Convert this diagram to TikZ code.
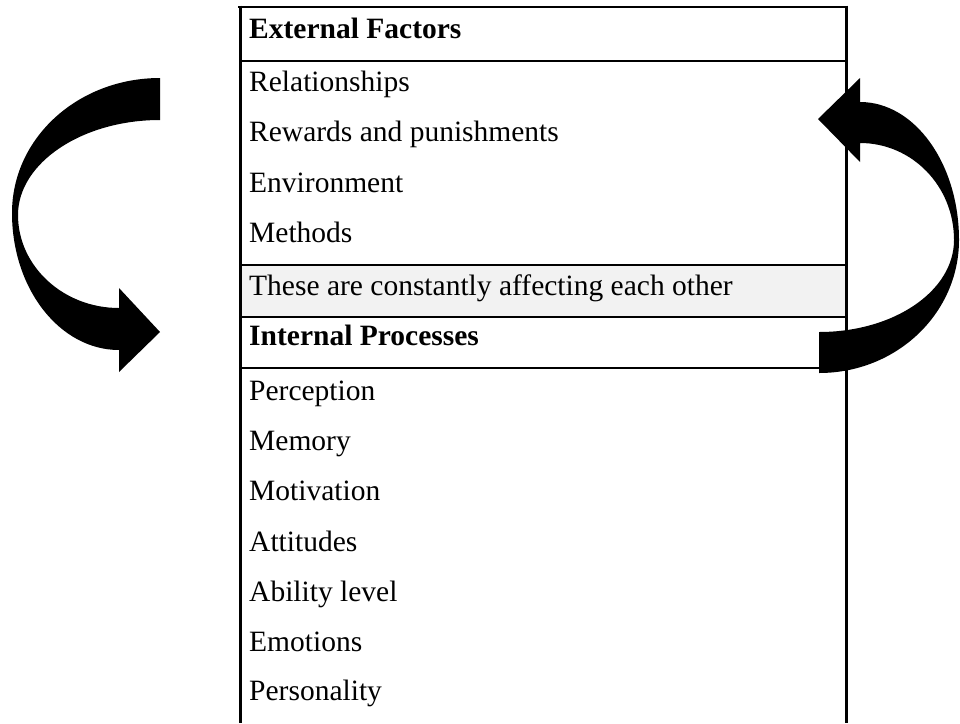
\documentclass[tikz,border=0pt]{standalone}
\usepackage{fontspec}
\setmainfont{Liberation Serif}
\usetikzlibrary{positioning}
\definecolor{notegray}{RGB}{242,242,242}
\tikzset{
  cell/.style={anchor=base west, inner sep=0pt, font=\fontsize{29.5}{35}\selectfont},
  headcell/.style={cell, font=\fontsize{29.5}{35}\selectfont\bfseries},
  rule/.style={line width=2.6pt},
  bigarrow/.style={fill=black, draw=none}
}

\begin{document}
\begin{tikzpicture}[x=1pt, y=-1pt]
    \useasboundingbox (0,0) rectangle (960,723);

    % note row background
    \fill[notegray] (240,265) rectangle (846,317);

    % table rules
    \draw[rule] (238,7) -- (848,7);
    \draw[rule] (240,61) -- (846,61);
    \draw[rule] (240,265) -- (848,265);
    \draw[rule] (240,317) -- (848,317);
    \draw[rule] (240,368) -- (846,368);
    \draw[rule, line width=3pt] (240,5.7) -- (240,723);
    \draw[rule, line width=3pt] (846,5.7) -- (846,723);

    % external factors
    \node[headcell] (ext) at (249,38) {External Factors};
    \foreach \y/\name/\txt in {91/rel/Relationships, 141/rew/Rewards and punishments,
            192/env/Environment, 242/meth/Methods}
        \node[cell] (\name) at (249,\y) {\txt};

    % note row
    \node[cell] (note) at (249,295) {These are constantly affecting each other};

    % internal processes
    \node[headcell] (intp) at (249,345) {Internal Processes};
    \foreach \y/\name/\txt in {400/perc/Perception, 450/mem/Memory, 500/mot/Motivation,
            551/att/Attitudes, 601/abil/Ability level, 651/emo/Emotions, 700/pers/Personality}
        \node[cell] (\name) at (249,\y) {\txt};

    % left curved arrow (down)
    \fill[bigarrow] (160,78) .. controls (78,78) and (12,138) .. (12,213)
        .. controls (12,289) and (60,350) .. (119,350)
        -- (119,372) -- (160,332) -- (119,288) -- (119,308)
        .. controls (63,308) and (18,266) .. (18,215)
        .. controls (18,163) and (82,120) .. (160,120) -- cycle;

    % right curved arrow (up)
    \fill[bigarrow] (819,373) .. controls (897,373) and (959,313) .. (959,240)
        .. controls (959,164) and (915,102) .. (860,102)
        -- (860,78) -- (818,119) -- (860,162) -- (860,143)
        .. controls (912,143) and (954,186) .. (954,240)
        .. controls (954,291) and (894,332) .. (819,332) -- cycle;
\end{tikzpicture}
\end{document}
